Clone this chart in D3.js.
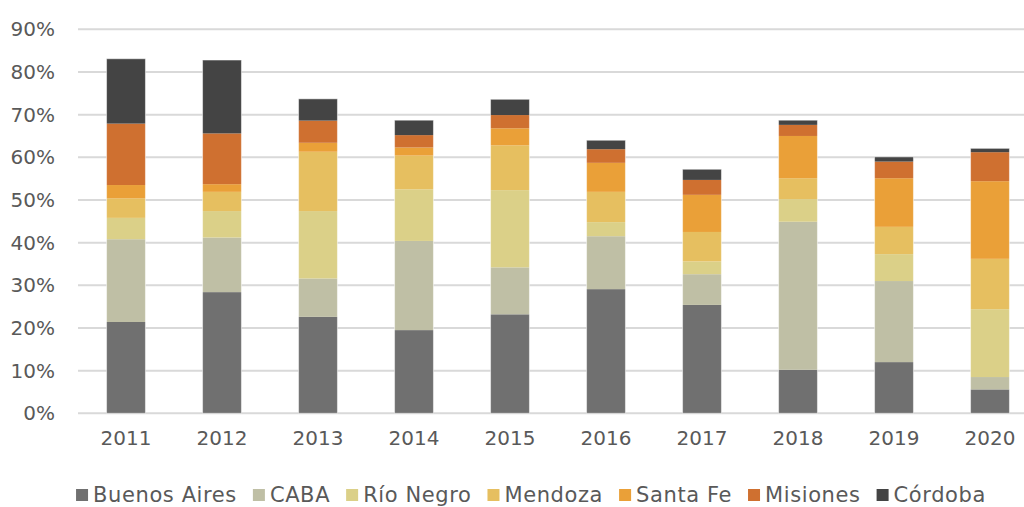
<!DOCTYPE html>
<html>
<head>
<meta charset="utf-8">
<script src="https://cdn.jsdelivr.net/npm/d3@7"></script>
<style>
  body { margin: 0; background: #fff; }
  svg text { font-family: "DejaVu Sans", sans-serif; fill: #595959; }
</style>
</head>
<body>
<div id="chart"></div>
<script>
// values (percent)
var years = ['2011','2012','2013','2014','2015','2016','2017','2018','2019','2020']
var series = ['Buenos Aires','CABA','Río Negro','Mendoza','Santa Fe','Misiones','Córdoba']
var colors = ['#707070','#bfbfa5','#dbd088','#e6bf60','#eaa038','#cf7030','#444444']

var buenosAires = [21.4, 28.4, 22.6, 19.5, 23.2, 29.1, 25.4, 10.2, 12.0, 5.6]
var caba        = [19.4, 12.8,  9.0, 20.9, 11.0, 12.4,  7.2, 34.7, 19.0, 2.9]
var rioNegro    = [ 5.0,  6.2, 15.8, 12.1, 18.1,  3.3,  3.0,  5.3,  6.3, 15.9]
var mendoza     = [ 4.6,  4.5, 13.9,  7.9, 10.5,  7.1,  6.9,  4.9,  6.4, 11.8]
var santaFe     = [ 3.1,  1.8,  2.1,  1.9,  4.0,  6.8,  8.7,  9.9, 11.4, 18.2]
var misiones    = [14.4, 11.9,  5.2,  2.9,  3.1,  3.2,  3.5,  2.6,  3.9,  6.8]
var cordoba     = [15.2, 17.2,  5.1,  3.5,  3.7,  2.1,  2.5,  1.1,  1.1,  0.9]

var yTicks = [0, 10, 20, 30, 40, 50, 60, 70, 80, 90]

var allValues = [buenosAires, caba, rioNegro, mendoza, santaFe, misiones, cordoba]

// table for d3.stack
var data = years.map(function(y, i) {
    var row = { year: y }
    series.forEach(function(s, j) { row[s] = allValues[j][i] })
    return row
})

var width = 1024, height = 507
var margin = {top: 29.3, left: 78, right: -14, bottom: 93.7}

var svg = d3.select('#chart').append('svg')
    .attr('width', width)
    .attr('height', height)

var x = d3.scaleBand()
    .domain(years)
    .range([margin.left, width - margin.right])
    .paddingInner(0.595)
    .paddingOuter(0.2975)

var y = d3.scaleLinear()
    .domain([0, 90])
    .range([height - margin.bottom, margin.top])

// grid lines
svg.append('g')
    .selectAll('line')
    .data(yTicks)
    .join('line')
      .attr('x1', margin.left)
      .attr('x2', width)
      .attr('y1', function(d) { return y(d) })
      .attr('y2', function(d) { return y(d) })
      .attr('stroke', '#d9d9d9')
      .attr('stroke-width', 2)

// y axis labels
var yAxis = d3.axisLeft(y)
    .tickValues(yTicks)
    .tickFormat(function(d) { return d + '%' })
    .tickSize(0)
    .tickPadding(0)
svg.append('g')
    .attr('transform', 'translate(55,0)')
    .call(yAxis)
    .call(function(g) { g.select('.domain').remove() })
    .selectAll('text')
      .attr('font-size', '20px')
      .attr('font-family', '"DejaVu Sans", sans-serif')
      .attr('fill', '#595959')

// x axis labels
var xAxis = d3.axisBottom(x).tickSize(0).tickPadding(0)
svg.append('g')
    .attr('transform', 'translate(0,' + (y(0) + 17) + ')')
    .call(xAxis)
    .call(function(g) { g.select('.domain').remove() })
    .selectAll('text')
      .attr('font-size', '20px')
      .attr('font-family', '"DejaVu Sans", sans-serif')
      .attr('fill', '#595959')

// stacked bars
var stacked = d3.stack().keys(series)(data)

svg.append('g')
    .selectAll('g')
    .data(stacked)
    .join('g')
      .attr('fill', function(d, i) { return colors[i] })
    .selectAll('rect')
    .data(function(d) { return d })
    .join('rect')
      .attr('x', function(d) { return x(d.data.year) })
      .attr('width', x.bandwidth())
      .attr('y', function(d) { return y(d[1]) })
      .attr('height', function(d) { return y(d[0]) - y(d[1]) })

// bar outline
svg.append('g')
    .selectAll('rect')
    .data(data)
    .join('rect')
      .attr('x', function(d) { return x(d.year) })
      .attr('width', x.bandwidth())
      .attr('y', function(d) { return y(d3.sum(series, function(s) { return d[s] })) })
      .attr('height', function(d) { return y(0) - y(d3.sum(series, function(s) { return d[s] })) })
      .attr('fill', 'none')
      .attr('stroke', '#ffffff')
      .attr('stroke-opacity', 0.5)
      .attr('stroke-width', 1)

// legend
var legend = svg.append('g')
var items = legend.selectAll('g')
    .data(series)
    .join('g')

items.append('rect')
    .attr('width', 12)
    .attr('height', 12)
    .attr('y', -6)
    .attr('fill', function(d, i) { return colors[i] })

items.append('text')
    .attr('x', 17)
    .attr('dy', '0.35em')
    .attr('font-size', '21px')
    .attr('letter-spacing', '0.6px')
    .text(function(d) { return d })

var pos = 0
var gap = 16
items.each(function() {
    var w = this.getBBox().width
    this.__x = pos
    pos += w + gap
})
var total = pos - gap
var start = 531 - total / 2
items.attr('transform', function() { return 'translate(' + (start + this.__x) + ',495)' })
</script>
</body>
</html>
